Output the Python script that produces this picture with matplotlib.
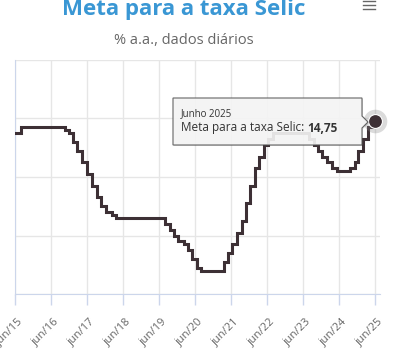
import datetime as dt

import matplotlib as mpl
mpl.use('Agg')
from matplotlib import pyplot as plt
from matplotlib.patches import Polygon
import matplotlib.transforms as mtransforms

# Selic target changes (date, % a.a.)
change_dates = [
    '2015-06-01', '2015-07-29', '2016-10-19', '2016-11-30', '2017-01-11',
    '2017-02-22', '2017-04-12', '2017-05-31', '2017-07-26', '2017-09-06',
    '2017-10-25', '2017-12-06', '2018-02-07', '2018-03-21', '2019-07-31',
    '2019-09-18', '2019-10-30', '2019-12-11', '2020-02-05', '2020-03-18',
    '2020-05-06', '2020-06-17', '2020-08-05', '2021-03-17', '2021-05-05',
    '2021-06-16', '2021-08-04', '2021-09-22', '2021-10-27', '2021-12-08',
    '2022-02-02', '2022-03-16', '2022-05-04', '2022-06-15', '2022-08-03',
    '2023-08-02', '2023-09-20', '2023-11-01', '2023-12-13', '2024-01-31',
    '2024-03-20', '2024-05-08', '2024-09-18', '2024-11-06', '2024-12-11',
    '2025-01-29', '2025-03-19', '2025-05-07', '2025-06-01',
]
selic = [
    13.75, 14.25, 14.00, 13.75, 13.00,
    12.25, 11.25, 10.25, 9.25, 8.25,
    7.50, 7.00, 6.75, 6.50, 6.00,
    5.50, 5.00, 4.50, 4.25, 3.75,
    3.00, 2.25, 2.00, 2.75, 3.50,
    4.25, 5.25, 6.25, 7.75, 9.25,
    10.75, 11.75, 12.75, 13.25, 13.75,
    13.25, 12.75, 12.25, 11.75, 11.25,
    10.75, 10.50, 10.75, 11.25, 12.25,
    13.25, 14.25, 14.75, 14.75,
]
tick_years = list(range(2015, 2026))
tick_labels = ['jun/{:02d}'.format(y % 100) for y in tick_years]

W, H = 396, 351
LINE = '#3d3035'
GRID = '#e6e6e6'
AXIS = '#ccd6eb'


def px(x, y):
    return (x / W, 1 - y / H)


dates = [dt.datetime.strptime(d, '%Y-%m-%d') for d in change_dates]
ticks = [dt.datetime(y, 6, 1) for y in tick_years]

fig = plt.figure(figsize=(W / 100, H / 100), dpi=100)
ax = fig.add_axes([15 / W, (H - 294) / H, (380 - 15) / W, (294 - 60) / H])

ax.plot(dates, selic, drawstyle='steps-post', color=LINE, lw=2.2,
        solid_joinstyle='miter', zorder=3)

ax.set_xlim(ticks[0], ticks[-1] + dt.timedelta(days=51))
ax.set_ylim(0, 20)
ax.set_yticks([0, 5, 10, 15, 20])
ax.set_yticklabels([])
ax.tick_params(axis='y', length=0)
ax.set_xticks(ticks)
ax.set_xticklabels(tick_labels, rotation=45, ha='right', va='center',
                   rotation_mode='anchor', color='#666666', fontsize=8,
                   family='Open Sans')
ax.tick_params(axis='x', length=8, width=1, color=AXIS, pad=11)
shift = mtransforms.ScaledTranslation(6 / 100, 0, fig.dpi_scale_trans)
for lab in ax.get_xticklabels():
    lab.set_transform(lab.get_transform() + shift)
ax.grid(True, color=GRID, lw=1)
ax.set_axisbelow(True)
for s in ['top', 'right']:
    ax.spines[s].set_visible(False)
ax.spines['bottom'].set_color(AXIS)
ax.spines['left'].set_color(AXIS)

# last point marker with halo
last = (dates[-1], selic[-1])
ax.plot(*last, 'o', ms=17, color='#888888', alpha=0.3, zorder=4,
        markeredgewidth=0, clip_on=False)
ax.plot(*last, 'o', ms=10, color=LINE, markeredgecolor='white',
        markeredgewidth=0.8, zorder=5, clip_on=False)

# tooltip
shape = [(173, 98), (362, 98), (362, 116), (368, 122), (362, 128),
         (362, 145), (173, 145)]
shadow = Polygon([px(x + 1, y + 1) for x, y in shape], closed=True,
                 facecolor='#000000', alpha=0.12, edgecolor='none',
                 transform=fig.transFigure, zorder=6)
tip = Polygon([px(x, y) for x, y in shape], closed=True, facecolor='#f7f7f7',
              alpha=0.9, edgecolor='#555555', lw=0.8,
              transform=fig.transFigure, zorder=7)
fig.add_artist(shadow)
fig.add_artist(tip)
fig.text(*px(181, 114), 'Junho 2025', fontsize=7, color='#333333',
         va='center', family='Open Sans', zorder=8)
t = fig.text(*px(181, 128), 'Meta para a taxa Selic: ', fontsize=8.5,
             color='#333333', va='center', family='Open Sans', zorder=8)
fig.canvas.draw()
bb = t.get_window_extent()
fig.text(bb.x1 / W, 1 - 128 / H, '14,75', fontsize=8.5, color='#333333',
         va='center', weight='bold', family='Open Sans', zorder=8)

# title and subtitle
fig.text(*px(184, 9), 'Meta para a taxa Selic', fontsize=16, color='#3a97d4',
         weight='bold', ha='center', va='center', family='Open Sans')
fig.text(*px(184, 40), '% a.a., dados diários', fontsize=10.5,
         color='#666666', ha='center', va='center', family='Open Sans')

# menu icon
for y in [1, 5, 9]:
    fig.add_artist(plt.Line2D([px(363, y)[0], px(375, y)[0]],
                              [px(363, y)[1]] * 2, color='#666666', lw=1,
                              transform=fig.transFigure))

fig.savefig('out.png', dpi=100)
